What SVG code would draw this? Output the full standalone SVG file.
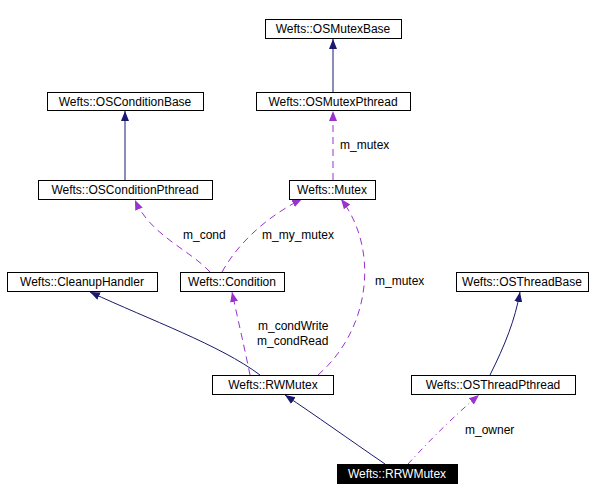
<svg xmlns="http://www.w3.org/2000/svg" width="601" height="502" viewBox="0 0 601 502">
<style>
.n rect{fill:#fff;stroke:#000;stroke-width:1}
text{font-family:"Liberation Sans",Arial,sans-serif;font-size:12px}
.n text{text-anchor:middle}
.s{fill:none;stroke:#191970;stroke-width:1}
.d{fill:none;stroke:#9a32cd;stroke-width:1;stroke-dasharray:7,5}
.dd{stroke-dasharray:6,4,1,4}
</style>
<defs>
<marker id="ah" markerWidth="10" markerHeight="10" refX="10" refY="5" orient="auto" markerUnits="userSpaceOnUse"><path d="M0,1 L10,5 L0,9 Z" fill="#191970"/></marker>
<marker id="ap" markerWidth="10" markerHeight="10" refX="10" refY="5" orient="auto" markerUnits="userSpaceOnUse"><path d="M0,1 L10,5 L0,9 Z" fill="#9a32cd"/></marker>
</defs>
<rect width="601" height="502" fill="#fff"/>
<g id="connectors">
<path class="s" marker-end="url(#ah)" d="M333,92 L333,39"/>
<path class="s" marker-end="url(#ah)" d="M125,180 L125,111"/>
<path class="d" marker-end="url(#ap)" d="M333,180 L333,111"/>
<text x="340" y="149">m_mutex</text>
<path class="d" marker-end="url(#ap)" d="M210,272 C190,250 150,235 135,200"/>
<text x="183" y="239">m_cond</text>
<path class="d" marker-end="url(#ap)" d="M222,272 C240,240 270,215 302,199"/>
<text x="262" y="239">m_my_mutex</text>
<path class="s" marker-end="url(#ah)" d="M260,375 C220,345 150,320 90,292"/>
<path class="d" marker-end="url(#ap)" d="M250,375 C245,350 238,320 232,292"/>
<text x="258" y="330">m_condWrite</text>
<text x="257" y="345">m_condRead</text>
<path class="d" marker-end="url(#ap)" d="M318,375 C370,330 380,250 341,199"/>
<text x="375" y="285">m_mutex</text>
<path class="s" marker-end="url(#ah)" d="M490,375 C505,345 515,320 520,292"/>
<path class="s" marker-end="url(#ah)" d="M385,464 C350,440 315,415 285,395"/>
<path class="d dd" marker-end="url(#ap)" d="M408,464 C430,440 455,415 479,395"/>
<text x="465" y="434">m_owner</text>
</g>
<g id="OSMutexBase" class="n"><rect x="265.5" y="19.5" width="136" height="19"/><text x="333" y="33">Wefts::OSMutexBase</text></g>
<g id="OSConditionBase" class="n"><rect x="47.5" y="92.5" width="156" height="18"/><text x="125" y="106">Wefts::OSConditionBase</text></g>
<g id="OSMutexPthread" class="n"><rect x="256.5" y="92.5" width="154" height="18"/><text x="333" y="106">Wefts::OSMutexPthread</text></g>
<g id="OSConditionPthread" class="n"><rect x="38.5" y="180.5" width="174" height="19"/><text x="125" y="194">Wefts::OSConditionPthread</text></g>
<g id="Mutex" class="n"><rect x="289.5" y="180.5" width="86" height="19"/><text x="332" y="194">Wefts::Mutex</text></g>
<g id="CleanupHandler" class="n"><rect x="7.5" y="272.5" width="150" height="19"/><text x="82" y="286">Wefts::CleanupHandler</text></g>
<g id="Condition" class="n"><rect x="180.5" y="272.5" width="104" height="19"/><text x="232" y="286">Wefts::Condition</text></g>
<g id="OSThreadBase" class="n"><rect x="456.5" y="272.5" width="132" height="19"/><text x="522" y="286">Wefts::OSThreadBase</text></g>
<g id="RWMutex" class="n"><rect x="212.5" y="375.5" width="121" height="19"/><text x="273" y="389">Wefts::RWMutex</text></g>
<g id="OSThreadPthread" class="n"><rect x="411.5" y="375.5" width="164" height="19"/><text x="493" y="389">Wefts::OSThreadPthread</text></g>
<g id="RRWMutex" class="n"><rect x="337.5" y="464.5" width="120" height="19" style="fill:#000"/><text x="397" y="478" fill="#fff">Wefts::RRWMutex</text></g>
</svg>
